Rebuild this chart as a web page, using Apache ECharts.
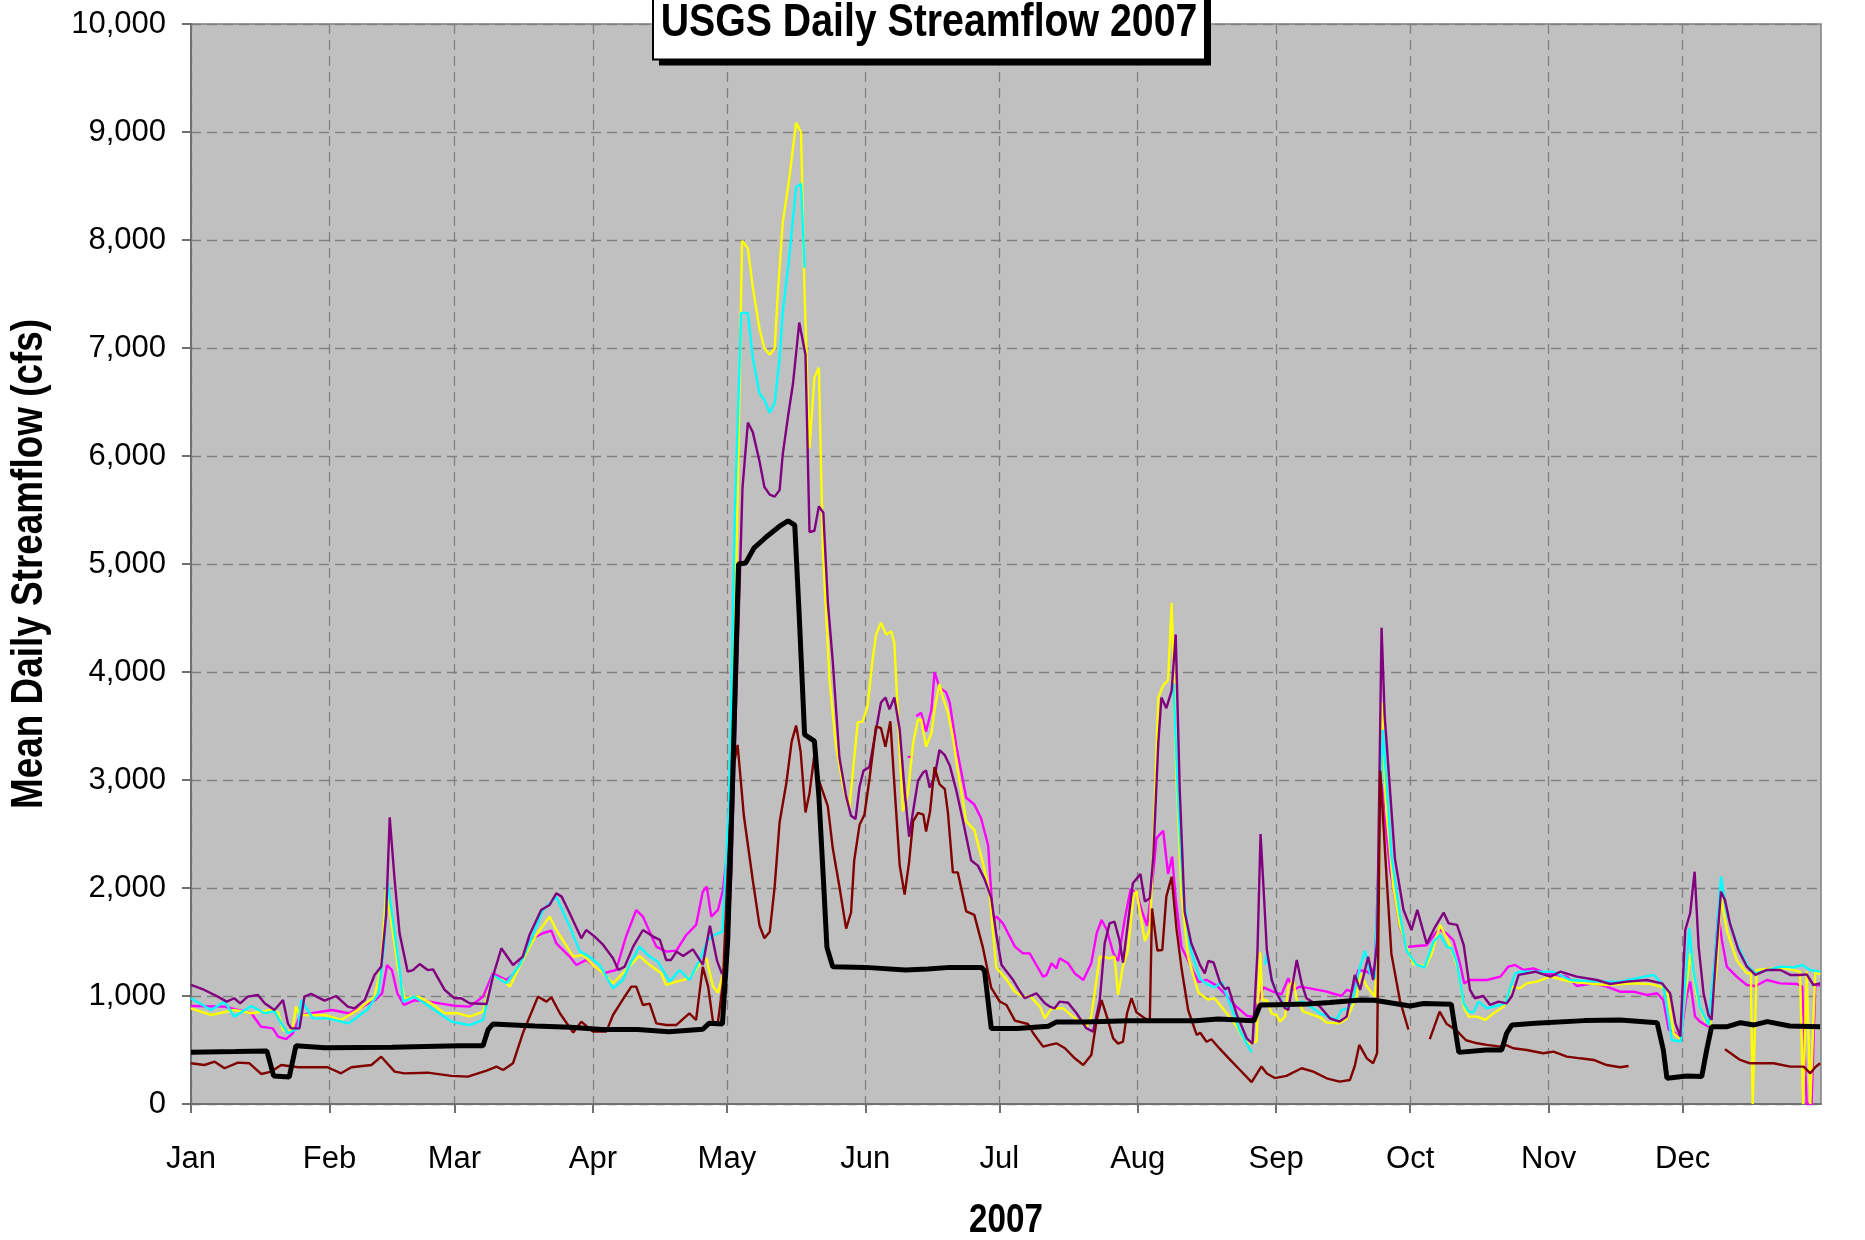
<!DOCTYPE html>
<html>
<head>
<meta charset="utf-8">
<title>USGS Daily Streamflow 2007</title>
<script src="https://cdn.jsdelivr.net/npm/echarts@6/dist/echarts.min.js"></script>
<style>
html,body{margin:0;padding:0;background:#fff;}
#chart{width:1865px;height:1240px;}
</style>
</head>
<body>
<div id="chart"></div>
<script>
// day of year (0 = Jan 1) where each month starts
var monthStarts = [0,31,59,90,120,151,181,212,243,273,304,334];
var monthNames = ['Jan','Feb','Mar','Apr','May','Jun','Jul','Aug','Sep','Oct','Nov','Dec'];

// [day, mean daily flow cfs], '-' = missing
var black = [[0,480],[10,485],[17,490],[18.5,260],[22,250],[23.5,540],[30,520],[45,525],[55,535],[60,540],[65.4,540],[66.5,686],[67.6,741],[77,722],[85,710],[92,690],[100,690],[107,670],[114.6,692],[116,747],[119,740],[120.2,1530],[121.3,3030],[122.6,5000],[124.2,5010],[126.1,5150],[128.8,5250],[131.8,5350],[133.7,5400],[135.2,5360],[136.2,4520],[137.4,3420],[139.6,3360],[140.6,2850],[141.7,2010],[142.4,1450],[143.7,1270],[151,1265],[160,1240],[165,1250],[170,1265],[177,1265],[177.7,1232],[179.2,700],[185,700],[192,720],[193.8,760],[200,760],[210,770],[215,770],[225,770],[230,787],[238,771],[239.4,917],[243,920],[250,926],[255,939],[262,963],[265,960],[273,908],[276,930],[282.2,924],[283.9,478],[290,500],[293.5,500],[294.6,655],[295.8,732],[301,747],[312,772],[320,778],[328.3,753],[329.7,500],[330.5,238],[335,260],[338.3,254],[339.4,500],[340.5,716],[344,716],[347,753],[350,732],[353,763],[358,722],[364.8,716]];

var maroon = [[0,377],[3,361],[5.3,392],[7.5,331],[10.5,383],[13.1,377],[15.7,278],[18,300],[20.2,361],[24,340],[30.6,340],[33.6,284],[35.9,340],[40.4,361],[42.6,438],[45.6,300],[47.8,284],[53,290],[58.3,260],[62,253],[66.2,309],[68.4,346],[69.9,315],[72.1,377],[74.3,655],[77.7,994],[79.6,948],[80.7,988],[82.6,840],[85.6,661],[87.4,763],[90,670],[93,670],[94.5,824],[97.1,994],[98.6,1087],[99.7,1087],[101.2,917],[102.7,930],[104.2,747],[106.4,732],[108.7,732],[111.6,840],[113.1,778],[114.6,1270],[115.8,1087],[116.9,758],[118,758],[119.1,1116],[120,2000],[121.3,3090],[122.4,3325],[123.8,2669],[125.8,2072],[127.3,1654],[128.4,1535],[129.6,1594],[130.7,2012],[131.8,2609],[133.3,2967],[134.5,3355],[135.5,3504],[136.5,3266],[137.6,2699],[138.5,2878],[139.6,3236],[140.6,2997],[142.6,2758],[143.7,2370],[145.2,2012],[146.7,1624],[147.8,1773],[148.5,2251],[149.7,2585],[150.8,2679],[151.9,3000],[153.4,3497],[154.5,3481],[155.5,3308],[156.6,3544],[157.5,2962],[158.7,2207],[159.8,1940],[160.8,2239],[161.7,2616],[162.8,2695],[164,2679],[164.6,2522],[165.5,2711],[166.5,3119],[167.6,2962],[168.8,2915],[169.5,2695],[170.6,2145],[171.7,2145],[173.6,1783],[175.4,1751],[177.3,1453],[179.2,1075],[181.1,949],[182.6,917],[184.5,772],[187.4,741],[188.6,655],[190.8,531],[192.3,547],[193.8,562],[195.7,516],[197.9,423],[199.8,361],[201.6,454],[202.8,778],[203.9,963],[205,820],[206.5,608],[207.6,559],[208.7,578],[209.6,840],[210.6,980],[211.7,850],[213.6,793],[214.7,770],[215.2,1811],[216.4,1421],[217.5,1426],[218.4,1920],[219.6,2104],[220.7,1616],[221.8,1259],[223.3,868],[225.2,640],[226,660],[227.4,576],[228.5,600],[230.4,510],[232.6,413],[234.9,315],[237.5,202],[239.7,348],[240.9,283],[242.7,240],[245.3,260],[248.7,331],[251.3,300],[254.3,238],[257.2,207],[259.5,222],[260.6,352],[261.6,547],[263.3,423],[264.7,377],[265.6,470],[266.3,3088],[267.7,2113],[268.8,1390],[270.7,960],[272.6,690],[275,'-'],[277.4,600],[279.6,855],[281.2,740],[283.3,684],[285.5,590],[288,562],[290.2,547],[293.2,531],[294.5,545],[296.1,516],[299.1,500],[302.8,470],[305.1,485],[308.1,439],[311.1,423],[314.1,408],[317,361],[320,340],[321.9,352],[330,'-'],[343.5,507],[346.9,408],[349.1,377],[354.4,377],[358.1,346],[361.1,346],[362.6,284],[363.7,340],[364.8,377]];

var purple = [[0,1102],[3,1056],[6,994],[8,948],[9.7,979],[11,932],[12.7,994],[15,1009],[16.5,932],[18.7,870],[20.6,963],[21.7,747],[22.4,700],[24.3,700],[25.4,994],[26.9,1019],[29.9,957],[32.5,1000],[35.1,901],[36.6,886],[38.9,963],[41.1,1195],[42.6,1272],[43.7,1750],[44.5,2654],[45.6,2074],[46.7,1580],[48.5,1226],[49.7,1240],[51.2,1296],[53,1240],[54.2,1247],[56.8,1056],[59,979],[60.5,979],[62.4,933],[66.2,926],[67.6,1179],[69.5,1442],[72.1,1287],[74.3,1365],[75.8,1565],[78.4,1796],[80.3,1843],[81.8,1951],[83,1920],[84.8,1766],[87.4,1534],[88.5,1611],[90.4,1550],[92.3,1473],[94.5,1349],[95.7,1241],[97.1,1272],[99,1457],[101.2,1611],[103.5,1550],[105,1520],[106.4,1334],[107.5,1334],[108.7,1411],[110.2,1370],[112.4,1432],[114.6,1290],[116.2,1650],[117.8,1325],[118.9,1206],[120,1296],[121,2130],[122.2,3920],[123.5,5710],[124.7,6310],[125.8,6221],[127.3,5952],[128.4,5713],[129.6,5642],[130.7,5624],[131.8,5684],[132.5,6012],[133.7,6370],[134.8,6669],[136.2,7236],[137.6,6937],[138.5,5296],[139.6,5308],[140.6,5534],[141.6,5475],[142.6,4650],[143.7,4102],[145.2,3206],[146.7,2848],[147.8,2669],[148.8,2639],[149.7,2937],[150.6,3087],[151.9,3119],[153.4,3465],[154.5,3717],[155.5,3764],[156.4,3654],[157.5,3764],[158.7,3465],[159.8,2899],[160.8,2475],[161.7,2711],[162.8,2994],[164,3072],[164.6,3088],[165.4,2931],[166.5,3025],[167.6,3277],[168.8,3230],[169.9,3135],[171.4,2899],[172.9,2616],[174.7,2254],[176.2,2207],[177.7,2082],[179.2,1909],[180.3,1579],[181.5,1287],[184.1,1148],[185.6,1044],[186.7,979],[189.3,1025],[191.2,932],[192.3,902],[193.4,886],[194.5,948],[196.4,938],[198.3,840],[200.5,701],[202,670],[203.5,963],[204.6,1488],[205.7,1673],[206.8,1688],[207.9,1519],[208.7,1309],[209.8,1673],[210.9,2043],[212.6,2130],[213.6,1874],[214.7,1904],[215.5,2300],[216.6,3340],[217.3,3763],[218.4,3665],[219.6,3828],[220.5,4348],[221.4,2917],[222.5,1779],[224,1486],[225.9,1291],[227,1210],[227.8,1324],[229,1310],[230.4,1129],[231.5,1064],[232.3,1080],[234.1,836],[236.4,608],[237.7,559],[238.8,1400],[239.5,2500],[240.3,1900],[240.9,1430],[242,1148],[243.1,1025],[245,886],[245.7,870],[247.6,1334],[248.7,1117],[249.8,979],[252.8,902],[255,793],[257.2,763],[258.8,809],[260.6,1195],[261.8,1056],[263.6,1364],[264.7,1148],[265.6,1500],[266.6,4409],[267.3,3591],[268.5,2900],[269.6,2270],[271.5,1798],[273.3,1610],[274.6,1798],[276.7,1484],[278.6,1641],[280.5,1772],[281.6,1673],[283.5,1658],[285,1472],[286.4,1056],[287.5,979],[289.4,1000],[290.9,917],[292.8,948],[294.6,932],[295.8,1000],[297.3,1195],[299.1,1210],[301,1225],[304.4,1179],[306.6,1225],[310.3,1179],[314.8,1148],[317.8,1111],[321.5,1133],[326,1148],[329.4,1117],[331.2,1025],[332.4,747],[333.5,624],[334.6,1611],[335.7,1766],[336.7,2151],[337.6,1457],[338.7,1025],[339.8,824],[340.5,778],[341.5,1370],[342.6,1966],[343.5,1889],[344.6,1673],[346.5,1426],[348.4,1272],[350.3,1195],[352.9,1241],[355.9,1241],[358.1,1195],[360.3,1195],[361.8,1200],[363.3,1102],[364.8,1117]];

var magenta = [[0,908],[7.5,902],[13.5,840],[15.7,716],[18.3,700],[19.5,624],[21.3,600],[22.8,655],[24.5,824],[31.6,870],[35.3,840],[38.3,902],[41.3,963],[42.8,1025],[43.9,1287],[45,1240],[46.2,1025],[47.7,917],[50,960],[53,950],[56,930],[59,910],[62.4,902],[65.4,994],[67.6,1210],[70.6,1148],[72.9,1226],[75.8,1519],[78.8,1581],[80.7,1605],[81.8,1488],[84.8,1365],[86.3,1287],[88.5,1334],[92.3,1210],[95.2,1241],[97.4,1550],[99.7,1796],[101.2,1735],[104.2,1457],[106.4,1411],[108.7,1420],[110.9,1565],[113.1,1658],[114.6,1966],[115.5,2013],[116.5,1735],[118,1797],[119.1,1982],[120.3,2400],[140,'-'],[160.5,3214],[161.7,3214],[162,'-'],[162.4,3591],[163.5,3623],[164.6,3450],[165.8,3650],[166.5,4000],[167.6,3858],[169.1,3811],[169.9,3717],[171.4,3308],[173.6,2836],[175.4,2773],[176.9,2648],[178.5,2396],[179.6,1704],[180.4,1735],[181.8,1673],[184.5,1457],[186.3,1395],[187.8,1395],[189.3,1287],[190.8,1179],[191.5,1190],[192.7,1303],[193.8,1256],[194.5,1349],[196.4,1303],[197.9,1210],[199.8,1148],[201.6,1303],[202.8,1580],[203.9,1704],[205,1620],[206.5,1400],[207.6,1324],[209.1,1714],[210.4,1990],[211.7,1960],[213,1779],[214.1,1650],[215.4,2105],[216.2,2462],[217.7,2530],[218.8,2130],[219.7,2290],[220.5,1900],[221.8,1454],[223.7,1291],[225.6,1129],[227.4,1150],[229.7,1096],[232,998],[234.1,901],[236.4,819],[237.9,803],[239,950],[240.1,1080],[242.3,1040],[244.2,1015],[245.7,1164],[246.8,1056],[248.3,1087],[250.6,1071],[254.3,1040],[257.6,1000],[258.8,1056],[260,1040],[261.4,1241],[263,1230],[264,1210],[265.1,1272],[266.6,2962],[268.5,2176],[270.7,1641],[272.2,1453],[274.4,1463],[276.7,1470],[278.9,1594],[279.7,1611],[281.2,1578],[282.7,1515],[284.2,1295],[285.1,1117],[286.4,1148],[290.2,1148],[293.2,1179],[295,1272],[296.5,1287],[298.4,1241],[300.6,1256],[303.6,1210],[308.1,1179],[310.3,1093],[314.1,1117],[317,1087],[320,1040],[323,1040],[326,1009],[328.3,1025],[329.7,963],[330.9,686],[332,670],[333.5,608],[334.9,1000],[335.7,1133],[336.8,809],[337.9,763],[339.8,716],[340.5,900],[342,1766],[342.8,1519],[343.9,1272],[346.1,1179],[348.4,1102],[350.3,1093],[352.9,1148],[355.9,1117],[359.6,1111],[360.8,1087],[361.8,0],[362.9,0],[363.7,1100],[364.8,1100]];

var yellow = [[0,886],[4.5,824],[9.7,870],[13.5,840],[18,870],[19.5,850],[20.6,686],[21.7,670],[22.8,700],[23.5,902],[24.3,824],[29.9,824],[33.6,778],[37.3,870],[41.1,994],[42.6,1272],[43.7,1982],[44.8,1704],[46.3,1272],[47.8,979],[50.8,994],[53.8,932],[56.8,840],[59.8,840],[62.4,809],[65.4,855],[67.6,1179],[69.9,1148],[71.4,1087],[74.3,1334],[77.3,1565],[80.3,1735],[81.8,1611],[85.6,1365],[87.8,1380],[90,1287],[92.3,1210],[94.5,1118],[97.4,1241],[100.4,1371],[102.7,1287],[105.3,1210],[106.4,1102],[108.7,1133],[111.6,1164],[113.9,1296],[115.4,1350],[116.9,1087],[118,1030],[119,1180],[120.2,1713],[121.3,3325],[122.4,5600],[123.4,7994],[124.7,7922],[125.8,7564],[127.3,7176],[128.4,6997],[129.6,6937],[130.7,6997],[131.4,7500],[132.5,8161],[134,8579],[135.5,9087],[136.6,8997],[137.4,7504],[138.5,6072],[139.6,6728],[140.6,6818],[141.5,5116],[143,3922],[144.4,3325],[145.9,2967],[147.4,2728],[149.3,3534],[150.4,3540],[151.5,3684],[152.6,4102],[153.4,4346],[154.5,4456],[155.7,4346],[156.8,4377],[157.5,4267],[158.3,3600],[159.4,2711],[160.5,2868],[161.7,3340],[162.8,3560],[163.5,3560],[164.6,3308],[165.8,3434],[166.5,3654],[167.6,3890],[168.4,3760],[169.5,3623],[170.6,3400],[171.7,3088],[173.6,2616],[175.4,2538],[177.3,2239],[178.8,1956],[180.3,1264],[182.6,1154],[184.4,1044],[186.3,994],[188,994],[190.1,902],[191.2,793],[192.7,886],[195.3,886],[197.5,809],[200.5,716],[201.6,809],[203.5,1364],[204.6,1360],[205.7,1349],[206.8,1364],[207.6,1010],[208.7,1280],[209.8,1421],[211,1909],[211.7,1974],[212.5,1781],[213.6,1510],[214.7,1616],[215.5,2383],[216.6,3763],[217.7,3876],[218.8,3925],[219.6,4641],[220,4055],[220.7,3000],[221.8,1941],[223.3,1356],[225.6,1031],[227.8,966],[229.2,980],[232,836],[234.1,722],[235.6,608],[236.8,559],[238.6,576],[239.4,1405],[239.9,960],[240.9,963],[242,836],[243.1,824],[243.8,763],[245,809],[245.7,1080],[246.8,1148],[247.6,963],[249.1,855],[252.8,803],[254.3,753],[257.2,747],[258.8,790],[261,994],[261.8,1210],[263.3,1087],[265.1,994],[265.9,1500],[266.6,3717],[267.7,2700],[269.2,2019],[270.7,1650],[272.2,1457],[273.7,1295],[276.5,1275],[277.8,1390],[279.7,1658],[281.2,1534],[282.3,1426],[283.8,1241],[285,901],[286.1,809],[288,809],[289.8,778],[291.7,840],[293.9,901],[295.8,1087],[297.6,1071],[299.1,1117],[301.4,1133],[304.4,1179],[308.8,1133],[312.6,1117],[317,1102],[323,1117],[327,1110],[329,1087],[330.5,1056],[332,655],[333.5,600],[334.9,1117],[335.8,1395],[337.2,994],[339.1,763],[340.2,732],[341.7,1303],[342.6,1920],[343.9,1611],[346.1,1334],[348.4,1210],[349.3,1210],[349.7,0],[350.6,1241],[354.4,1256],[357,1256],[360.3,1226],[361,0],[361.8,1230],[362.6,0],[363.7,1220],[364.8,1200]];

var cyan = [[0,979],[4.5,870],[7.5,948],[9.7,809],[13.5,908],[16.5,840],[18.7,860],[20.2,747],[21.7,655],[24,700],[24.7,963],[27.3,793],[30.6,793],[35.3,747],[39.4,870],[42,1025],[43.3,1500],[44,2059],[45.2,1704],[46.7,1250],[47.5,948],[50,994],[52.3,932],[58.3,763],[62.4,730],[65.4,778],[67.6,1195],[70.6,1118],[73.6,1287],[75.8,1488],[78.8,1796],[81.8,1920],[84.8,1642],[87.1,1411],[89.2,1365],[91.5,1287],[94.5,1071],[96.7,1148],[98.2,1287],[100.4,1457],[102.7,1365],[104.5,1320],[107.2,1133],[109.4,1241],[111.6,1148],[113.9,1334],[115.7,1519],[117,1560],[118,1581],[119,1594],[120.5,2800],[121.8,5500],[123.2,7325],[124.7,7325],[125.8,6907],[127.3,6579],[128.4,6520],[129.6,6400],[130.7,6490],[131.8,6907],[132.5,7325],[134,7863],[135.5,8490],[136.6,8520],[137.4,7743],[180,'-'],[219.6,3850],[220,3893],[221.1,2754],[222.2,1950],[223.7,1454],[225.9,1161],[227.4,1112],[229.2,1080],[230.8,1129],[232.6,934],[234.9,673],[237.5,478],[239,'-'],[240.5,1291],[240.9,1395],[242,1148],[243.1,1025],[245.3,886],[246.8,932],[249.1,948],[252.8,840],[256.5,778],[257.6,870],[259.1,886],[260.3,994],[261.8,1272],[262.9,1420],[264,1210],[265.1,1164],[266.1,2500],[266.9,3465],[268.8,2300],[270.7,1751],[272.2,1421],[274.4,1290],[276.2,1264],[278.2,1500],[279.7,1565],[281.2,1457],[282.3,1440],[283.5,1303],[285,932],[286.1,855],[287.2,850],[288.3,948],[290.2,886],[292.4,908],[294.3,932],[296.5,1210],[297.6,1226],[301.4,1225],[305.1,1225],[308.8,1148],[314.8,1133],[320,1133],[327.5,1195],[329.7,1102],[331.6,593],[333.6,577],[334.6,1100],[335.5,1627],[336.4,1241],[337.9,901],[339.8,732],[341.3,1364],[342.6,2105],[343.9,1766],[346.1,1488],[348.4,1287],[350.3,1210],[355.9,1272],[358.9,1265],[360.8,1287],[362.6,1241],[364.8,1226]];

var boldFont = '"Liberation Sans", Arial, sans-serif';
var plain = '"Liberation Sans", Arial, sans-serif';

function line(name, data, color, width) {
    return {
        name: name,
        type: 'line',
        data: data,
        symbol: 'none',
        connectNulls: false,
        animation: false,
        lineStyle: { color: color, width: width },
        itemStyle: { color: color }
    };
}

var chart = echarts.init(document.getElementById('chart'));
chart.setOption({
    backgroundColor: '#ffffff',
    animation: false,
    grid: {
        left: 191,
        right: 44,
        top: 24,
        bottom: 136,
        containLabel: false,
        outerBoundsMode: 'none',
        show: true,
        backgroundColor: '#c0c0c0',
        borderColor: '#808080',
        borderWidth: 1.5
    },
    // title box and axis titles (narrow bold lettering)
    graphic: [
        { type: 'rect', z: 100, shape: { x: 659, y: -4, width: 552, height: 69.5 }, style: { fill: '#000' } },
        { type: 'rect', z: 101, shape: { x: 653, y: -10, width: 552, height: 69.5 }, style: { fill: '#fff', stroke: '#000', lineWidth: 2 } },
        { type: 'text', z: 102, x: 929, y: 23, scaleX: 0.835,
          style: { text: 'USGS Daily Streamflow 2007', font: 'bold 47px ' + boldFont, fill: '#000', align: 'center', verticalAlign: 'middle' } },
        { type: 'text', z: 102, x: 30, y: 564, rotation: Math.PI / 2, scaleX: 0.82,
          style: { text: 'Mean Daily Streamflow (cfs)', font: 'bold 45px ' + boldFont, fill: '#000', align: 'center', verticalAlign: 'middle' } },
        { type: 'text', z: 102, x: 1006, y: 1221, scaleX: 0.83,
          style: { text: '2007', font: 'bold 40px ' + boldFont, fill: '#000', align: 'center', verticalAlign: 'middle' } }
    ],
    xAxis: {
        type: 'value',
        min: 0,
        max: 365,
        axisLine: { show: true, lineStyle: { color: '#707070', width: 2 } },
        axisTick: { show: true, customValues: monthStarts, length: 9, lineStyle: { color: '#707070', width: 2 } },
        axisLabel: {
            customValues: monthStarts,
            formatter: function (v) { return monthNames[monthStarts.indexOf(v)]; },
            fontFamily: plain,
            fontSize: 31,
            color: '#000',
            margin: 40
        },
        splitLine: { show: true, lineStyle: { color: '#808080', type: [10, 6], width: 1.3 } }
    },
    yAxis: {
        type: 'value',
        min: 0,
        max: 10000,
        interval: 1000,
        axisLine: { show: true, lineStyle: { color: '#707070', width: 2 } },
        axisTick: { show: true, length: 9, lineStyle: { color: '#707070', width: 2 } },
        axisLabel: {
            formatter: function (v) { return String(v).replace(/\B(?=(\d{3})+(?!\d))/g, ','); },
            fontFamily: plain,
            fontSize: 31,
            color: '#000',
            margin: 25
        },
        splitLine: { show: true, lineStyle: { color: '#808080', type: [10, 6], width: 1.3 } }
    },
    series: [
        line('Magenta', magenta, '#ff00ff', 2.4),
        line('Yellow', yellow, '#ffff00', 2.4),
        line('Cyan', cyan, '#00ffff', 2.4),
        line('Purple', purple, '#800080', 2.4),
        line('Maroon', maroon, '#800000', 2.4),
        line('Black', black, '#000000', 5)
    ]
});
</script>
</body>
</html>
